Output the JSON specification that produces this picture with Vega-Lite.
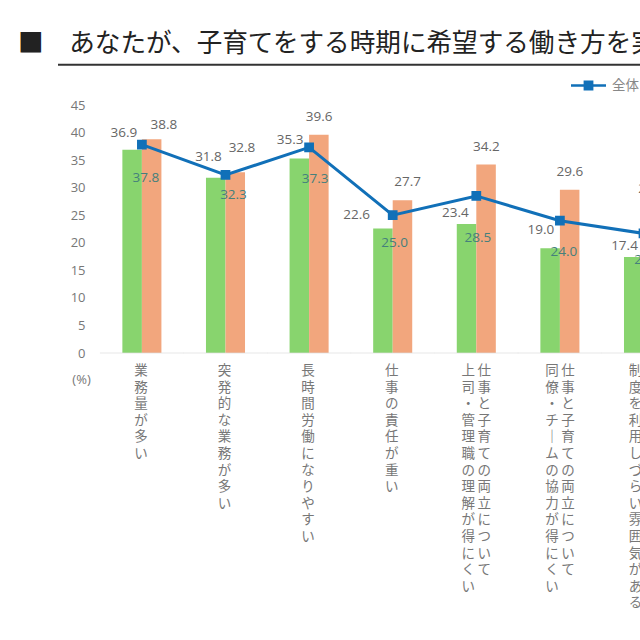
{"$schema":"https://vega.github.io/schema/vega-lite/v6.json",
"autosize":"none","width":582,"height":248,
"padding":{"left":58,"top":105,"right":0,"bottom":287},
"background":"white",
"config":{"view":{"stroke":null},"text":{"font":"Open Sans"},"axisY":{"tickCount":10,"labelOverlap":false}},
"title":{"text":"■　あなたが、子育てをする時期に希望する働き方を実","font":"Noto Sans CJK JP","fontSize":25.6,"fontWeight":"normal","color":"#222222","anchor":"start","frame":"group","dx":-40,"offset":6},
"datasets":{
"rows":[
{"category":"業務量が多い","series":"全体","value":37.8},{"category":"業務量が多い","series":"男性","value":36.9},{"category":"業務量が多い","series":"女性","value":38.8},
{"category":"突発的な業務が多い","series":"全体","value":32.3},{"category":"突発的な業務が多い","series":"男性","value":31.8},{"category":"突発的な業務が多い","series":"女性","value":32.8},
{"category":"長時間労働になりやすい","series":"全体","value":37.3},{"category":"長時間労働になりやすい","series":"男性","value":35.3},{"category":"長時間労働になりやすい","series":"女性","value":39.6},
{"category":"仕事の責任が重い","series":"全体","value":25.0},{"category":"仕事の責任が重い","series":"男性","value":22.6},{"category":"仕事の責任が重い","series":"女性","value":27.7},
{"category":"上司・管理職の理解","series":"全体","value":28.5},{"category":"上司・管理職の理解","series":"男性","value":23.4},{"category":"上司・管理職の理解","series":"女性","value":34.2},
{"category":"同僚・チームの協力","series":"全体","value":24.0},{"category":"同僚・チームの協力","series":"男性","value":19.0},{"category":"同僚・チームの協力","series":"女性","value":29.6},
{"category":"制度を利用しづらい","series":"全体","value":21.7},{"category":"制度を利用しづらい","series":"男性","value":17.4},{"category":"制度を利用しづらい","series":"女性","value":26.5}],
"names":[
{"category":"業務量が多い","col1":"業務量が多い"},
{"category":"突発的な業務が多い","col1":"突発的な業務が多い"},
{"category":"長時間労働になりやすい","col1":"長時間労働になりやすい"},
{"category":"仕事の責任が重い","col1":"仕事の責任が重い"},
{"category":"上司・管理職の理解","col1":"仕事と子育ての両立について","col2":"上司・管理職の理解が得にくい"},
{"category":"同僚・チームの協力","col1":"仕事と子育ての両立について","col2":"同僚・チ｜ムの協力が得にくい"},
{"category":"制度を利用しづらい","col2":"制度を利用しづらい雰囲気がある"}]},
"data":{"name":"rows"},
"encoding":{
"x":{"field":"category","type":"nominal","sort":null,"axis":null,
"scale":{"domain":["業務量が多い","突発的な業務が多い","長時間労働になりやすい","仕事の責任が重い","上司・管理職の理解","同僚・チームの協力","制度を利用しづらい"],"range":[0,669.4],"paddingInner":0.533,"paddingOuter":0.77}}},
"layer":[
{"transform":[{"filter":"datum.series != '全体'"}],
"mark":{"type":"bar"},
"encoding":{
"xOffset":{"field":"series","type":"nominal","scale":{"domain":["男性","女性"],"paddingInner":0,"paddingOuter":0}},
"y":{"field":"value","type":"quantitative","scale":{"domain":[0,45]},
"axis":{"grid":false,"domain":false,"ticks":false,"offset":-42,"labelPadding":15,"labelFont":"Open Sans","labelFontSize":13,"labelColor":"#777777","title":"(%)","titleFont":"Open Sans","titleFontWeight":"normal","titleFontSize":13,"titleColor":"#777777","titleAngle":0,"titleAlign":"center","titleBaseline":"middle","titleX":-19,"titleY":274}},
"fill":{"field":"series","type":"nominal","legend":null,"scale":{"domain":["男性","女性"],"range":["#88d46e","#f2a67d"]}}}},
{"transform":[{"filter":"datum.series == '男性'"}],
"mark":{"type":"tick","orient":"horizontal","size":84,"thickness":1,"color":"#dddddd"},
"encoding":{"y":{"datum":0}}},
{"mark":{"type":"rule","color":"#333333","strokeWidth":2},
"transform":[{"filter":"datum.series == '全体' && datum.category == '業務量が多い'"}],
"encoding":{"x":null,"y":{"datum":52.3}}},
{"transform":[{"filter":"datum.series == '全体'"}],
"mark":{"type":"line","strokeWidth":3,"point":{"shape":"square","size":60,"filled":true,"color":"#1170b8"}},
"encoding":{
"y":{"field":"value","type":"quantitative"},
"stroke":{"field":"series","type":"nominal","scale":{"domain":["全体"],"range":["#1170b8"]},
"legend":{"orient":"none","legendX":513,"legendY":-37,"title":null,"symbolType":"M-1,-0.07H-0.28V-0.28H0.28V-0.07H1V0.07H0.28V0.28H-0.28V0.07H-1Z","symbolSize":1225,"symbolStrokeWidth":0,"symbolFillColor":"#1170b8","labelFont":"Noto Sans CJK JP","labelFontSize":13.5,"labelOffset":6,"labelColor":"#888888"}}}},
{"transform":[{"filter":"datum.series == '男性'"}],
"mark":{"type":"text","fontSize":13.5,"color":"#666666",
"dx":{"expr":"[-18,-17,-19,-36,-21,-19,-19][indexof(domain('x'),datum.category)]"},
"dy":{"expr":"[-17,-21,-18,-13,-11,-18,-11][indexof(domain('x'),datum.category)]"}},
"encoding":{"y":{"field":"value","type":"quantitative"},"text":{"field":"value","type":"quantitative","format":".1f"}}},
{"transform":[{"filter":"datum.series == '女性'"}],
"mark":{"type":"text","fontSize":13.5,"color":"#666666",
"dx":{"expr":"[22,16.5,10,15,10,10,8][indexof(domain('x'),datum.category)]"},
"dy":{"expr":"[-14,-24,-18,-18,-18,-18,-18][indexof(domain('x'),datum.category)]"}},
"encoding":{"y":{"field":"value","type":"quantitative"},"text":{"field":"value","type":"quantitative","format":".1f"}}},
{"transform":[{"filter":"datum.series == '全体'"}],
"mark":{"type":"text","fontSize":13.5,"color":"#45807c",
"dx":{"expr":"[4,8,6,2,1.5,4,4][indexof(domain('x'),datum.category)]"},
"dy":{"expr":"[33,20,32,28,42,31,27][indexof(domain('x'),datum.category)]"}},
"encoding":{"y":{"field":"value","type":"quantitative"},"text":{"field":"value","type":"quantitative","format":".1f"}}},
{"data":{"name":"names"},"transform":[{"filter":"datum.col1"}],
"mark":{"type":"text","font":"Noto Sans CJK JP","fontSize":13.5,"color":"#777777","baseline":"top","lineHeight":16.6,"dy":11,
"dx":{"expr":"datum.col2 ? 8 : -1"},"text":{"expr":"split(datum.col1,'')"}},
"encoding":{"y":{"datum":0}}},
{"data":{"name":"names"},"transform":[{"filter":"datum.col2"}],
"mark":{"type":"text","font":"Noto Sans CJK JP","fontSize":13.5,"color":"#777777","baseline":"top","lineHeight":16.6,"dy":11,"dx":-8,
"text":{"expr":"split(datum.col2,'')"}},
"encoding":{"y":{"datum":0}}}
],
"resolve":{"scale":{"y":"shared"}}}
